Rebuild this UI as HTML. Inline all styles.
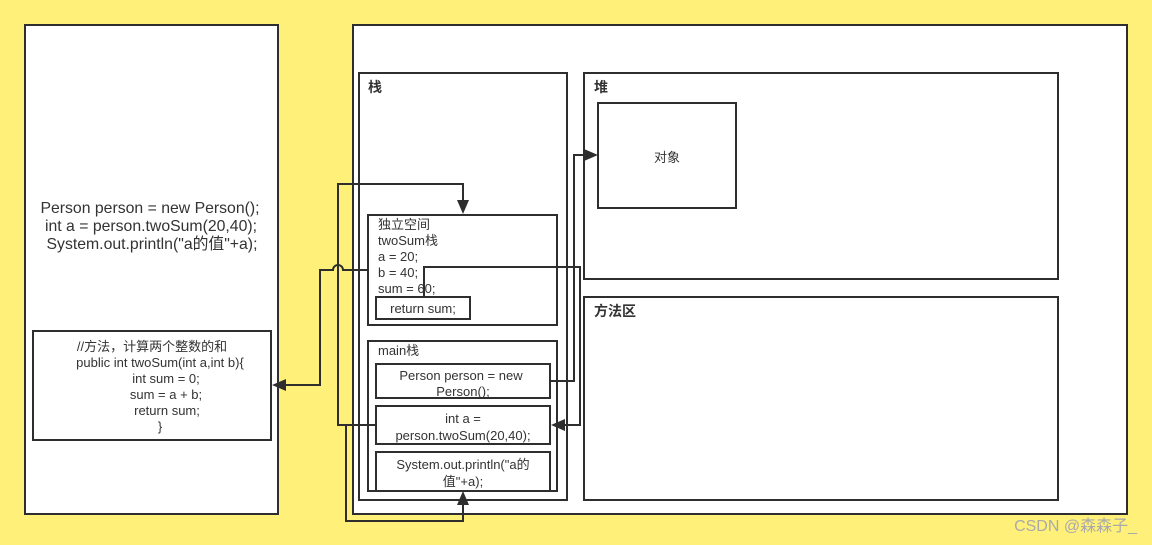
<!DOCTYPE html>
<html><head><meta charset="utf-8"><style>
body{margin:0;width:1152px;height:545px;background:#fff07a;overflow:hidden;font-family:"Liberation Sans","Noto Sans CJK SC",sans-serif;}
svg{position:absolute;left:0;top:0}
text{font-family:"Liberation Sans","Noto Sans CJK SC",sans-serif;fill:#333}
</style></head><body>
<svg width="1152" height="545" viewBox="0 0 1152 545">
<g fill="#fff" stroke="#2e2e2e" stroke-width="2">
<rect x="25" y="25" width="253" height="489"/>
<rect x="353" y="25" width="774" height="489"/>
<rect x="359" y="73" width="208" height="427"/>
<rect x="584" y="73" width="474" height="206"/>
<rect x="584" y="297" width="474" height="203"/>
<rect x="598" y="103" width="138" height="105"/>
<rect x="368" y="215" width="189" height="110"/>
<rect x="376" y="297" width="94" height="22"/>
<rect x="368" y="341" width="189" height="150"/>
<rect x="376" y="364" width="174" height="34"/>
<rect x="376" y="406" width="174" height="38"/>
<rect x="376" y="452" width="174" height="39"/>
<rect x="33" y="331" width="238" height="109"/>
</g>
<g fill="none" stroke="#2e2e2e" stroke-width="2">
<path d="M376 425 H338 V184 H463 V202"/>
<path d="M368 270 H343 A5 5 0 0 0 333 270 H320 V385 H284"/>
<path d="M424 297 V267 H580 V425 H563"/>
<path d="M550 381 H574 V155 H586"/>
<path d="M353 425 V514"/>
<path d="M346 425 V521 H463 V503"/>
</g>
<g fill="#2e2e2e">
<polygon points="457,200 469,200 463,214"/>
<polygon points="286,379 286,391 272,385"/>
<polygon points="565,419 565,431 551,425"/>
<polygon points="584,149 584,161 598,155"/>
<polygon points="457,505 469,505 463,491"/>
</g>
<g font-size="15.8" text-anchor="middle">
<text x="150" y="213">Person person = new Person();</text>
<text x="151" y="231">int a = person.twoSum(20,40);</text>
<text x="152" y="249">System.out.println("a的值"+a);</text>
</g>
<g font-size="13" text-anchor="middle">
<text x="152" y="351">//方法，计算两个整数的和</text>
<text x="160" y="367">public int twoSum(int a,int b){</text>
<text x="166" y="383">int sum = 0;</text>
<text x="166" y="399">sum = a + b;</text>
<text x="167" y="415">return sum;</text>
<text x="160" y="431">}</text>
<text x="667" y="162">对象</text>
<text x="423" y="313">return sum;</text>
<text x="461" y="380">Person person = new</text>
<text x="463" y="396">Person();</text>
<text x="463" y="423">int a =</text>
<text x="463" y="440">person.twoSum(20,40);</text>
<text x="463" y="469">System.out.println("a的</text>
<text x="463" y="486">值"+a);</text>
</g>
<g font-size="13">
<text x="378" y="229">独立空间</text>
<text x="378" y="245">twoSum栈</text>
<text x="378" y="261">a = 20;</text>
<text x="378" y="277">b = 40;</text>
<text x="378" y="293">sum = 60;</text>
<text x="378" y="355">main栈</text>
</g>
<g font-size="14" font-weight="bold">
<text x="368" y="92">栈</text>
<text x="594" y="92">堆</text>
<text x="594" y="316">方法区</text>
</g>
<text x="1137" y="531" font-size="16" text-anchor="end" style="fill:#aaa">CSDN @森森子_</text>
</svg>
</body></html>
